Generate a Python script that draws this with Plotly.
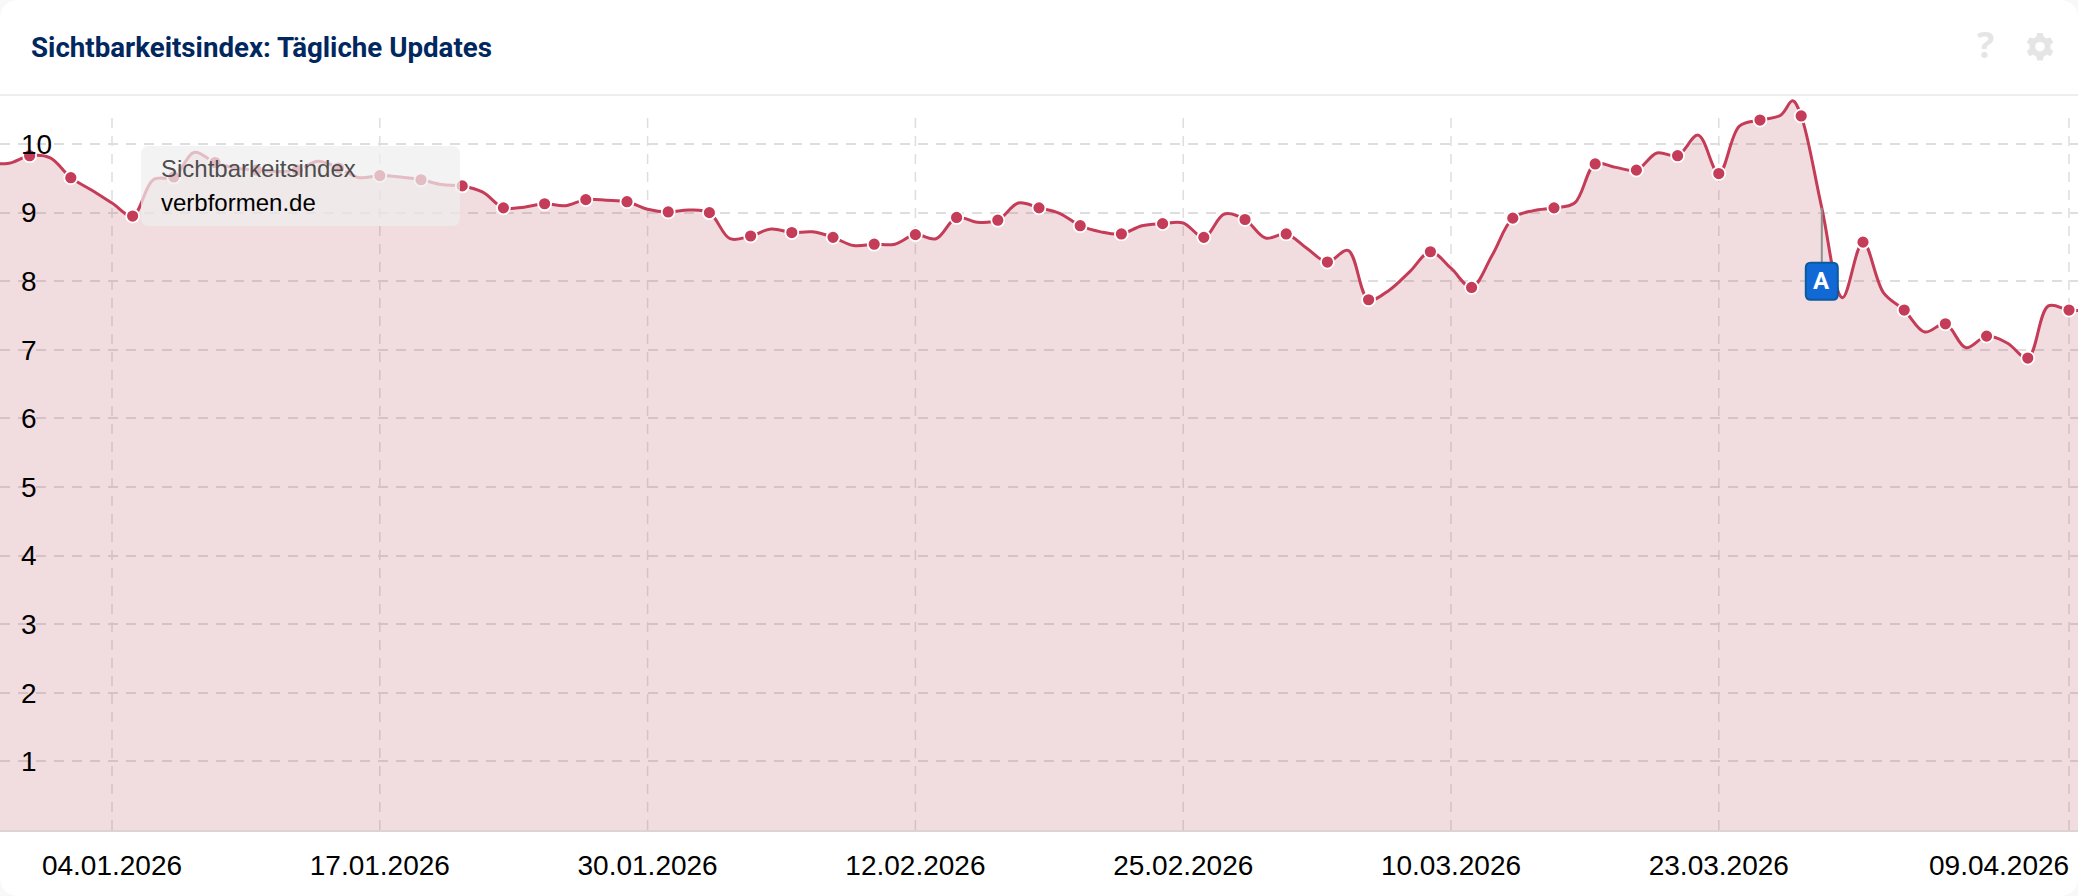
import math

import pandas as pd
import plotly.graph_objects as go

# Sichtbarkeitsindex, ein Wert pro Tag
dez_25 = [9.72, 9.72, 9.83]
jan_26 = [9.80, 9.51, 9.33, 9.14, 8.95, 9.48, 9.52, 9.88, 9.73, 9.65, 9.62, 9.60, 9.62, 9.75, 9.65, 9.51,
          9.54, 9.52, 9.48, 9.41, 9.39, 9.30, 9.07, 9.08, 9.13, 9.10, 9.19, 9.18, 9.16, 9.05, 9.01]
feb_26 = [9.04, 9.00, 8.62, 8.66, 8.76, 8.71, 8.72, 8.64, 8.52, 8.54, 8.54, 8.68, 8.62, 8.93, 8.86, 8.89,
          9.14, 9.07, 8.99, 8.81, 8.72, 8.69, 8.81, 8.84, 8.85, 8.64, 8.98, 8.90]
mar_26 = [8.63, 8.69, 8.48, 8.28, 8.45, 7.73, 7.87, 8.14, 8.43, 8.19, 7.91, 8.38, 8.92, 9.03, 9.07, 9.14,
          9.71, 9.66, 9.62, 9.87, 9.83, 10.13, 9.57, 10.26, 10.35, 10.42, 10.41, 9.07, 7.76, 8.57, 7.83]
apr_26 = [7.58, 7.26, 7.38, 7.03, 7.20, 7.10, 6.88, 7.64, 7.58, 7.58]

# Zwischenwert am 26.03. (kurze Spitze vor dem Abfall)
extra_zeit = ['2026-03-26 14:00']
extra_wert = [10.63]

werte = dez_25 + jan_26 + feb_26 + mar_26 + apr_26
tage = pd.date_range('2025-12-29', periods=len(werte), freq='D')
df = pd.DataFrame({'wert': werte}, index=tage)
linie = pd.concat([df, pd.DataFrame({'wert': extra_wert}, index=pd.to_datetime(extra_zeit))]).sort_index()

# Tage mit Punkt
punkte = ['2025-12-31', '2026-01-02', '2026-01-05', '2026-01-07', '2026-01-09', '2026-01-11', '2026-01-13',
          '2026-01-15', '2026-01-17', '2026-01-19', '2026-01-21', '2026-01-23', '2026-01-25', '2026-01-27',
          '2026-01-29', '2026-01-31', '2026-02-02', '2026-02-04', '2026-02-06', '2026-02-08', '2026-02-10',
          '2026-02-12', '2026-02-14', '2026-02-16', '2026-02-18', '2026-02-20', '2026-02-22', '2026-02-24',
          '2026-02-26', '2026-02-28', '2026-03-02', '2026-03-04', '2026-03-06', '2026-03-09', '2026-03-11',
          '2026-03-13', '2026-03-15', '2026-03-17', '2026-03-19', '2026-03-21', '2026-03-23', '2026-03-25',
          '2026-03-27', '2026-03-30', '2026-04-01', '2026-04-03', '2026-04-05', '2026-04-07', '2026-04-09']

x_ticks = ['2026-01-04', '2026-01-17', '2026-01-30', '2026-02-12', '2026-02-25', '2026-03-10', '2026-03-23',
           '2026-04-09']
x_labels = ['04.01.2026', '17.01.2026', '30.01.2026', '12.02.2026', '25.02.2026', '10.03.2026', '23.03.2026',
            '09.04.2026']
y_ticks = [1, 2, 3, 4, 5, 6, 7, 8, 9, 10]

flagge_tag = '2026-03-28'
flagge_text = 'A'

W, H = 2078, 896
TOP, BOTTOM = 96, 66
ROT = '#c43c58'
GRID = '#dedede'
ICON = '#e5e5e5'
SCHRIFT = 'Liberation Sans'


def px(x):
    return x / W


def py(y):
    # Pixel von oben -> paper-Koordinate des Plotbereichs
    return 1 - (y - TOP) / (H - TOP - BOTTOM)


def rund(x0, y0, x1, y1, r):
    return (f'M {px(x0 + r)} {py(y0)} L {px(x1 - r)} {py(y0)} Q {px(x1)} {py(y0)} {px(x1)} {py(y0 + r)} '
            f'L {px(x1)} {py(y1 - r)} Q {px(x1)} {py(y1)} {px(x1 - r)} {py(y1)} '
            f'L {px(x0 + r)} {py(y1)} Q {px(x0)} {py(y1)} {px(x0)} {py(y1 - r)} '
            f'L {px(x0)} {py(y0 + r)} Q {px(x0)} {py(y0)} {px(x0 + r)} {py(y0)} Z')


def zahnrad(cx, cy, aussen, innen, zaehne=6):
    # Zahnrad-Icon als geschlossener Pfad
    teile = []
    schritt = 2 * math.pi / zaehne
    for i in range(zaehne):
        w = -math.pi / 2 + i * schritt
        for r, d in ((innen, -0.36), (aussen, -0.2), (aussen, 0.2), (innen, 0.36)):
            teile.append((cx + r * math.cos(w + d), cy + r * math.sin(w + d)))
    pfad = ' L '.join(f'{px(a)} {py(b)}' for a, b in teile)
    return f'M {pfad} Z'


def kreis(cx, cy, r, n=24):
    teile = [(cx + r * math.cos(2 * math.pi * i / n), cy + r * math.sin(2 * math.pi * i / n)) for i in range(n)]
    pfad = ' L '.join(f'{px(a)} {py(b)}' for a, b in teile)
    return f'M {pfad} Z'


fig = go.Figure()
fig.add_trace(go.Scatter(x=linie.index, y=linie['wert'], mode='lines', fill='tozeroy',
                         fillcolor='rgba(176,62,80,0.18)', line=dict(color=ROT, width=3, shape='spline', smoothing=1),
                         hoverinfo='skip', showlegend=False))
fig.add_trace(go.Scatter(x=pd.to_datetime(punkte), y=df.loc[pd.to_datetime(punkte), 'wert'], mode='markers',
                         marker=dict(color=ROT, size=13, line=dict(color='white', width=1.8)), showlegend=False,
                         cliponaxis=False))

shapes = [dict(type='path', xref='paper', yref='paper', layer='below', path=rund(0, 0, W, H, 20),
               fillcolor='white', line_width=0),
          dict(type='line', xref='paper', yref='paper', x0=0, x1=1, y0=py(95), y1=py(95),
               line=dict(color='#eeeeee', width=2), layer='below'),
          dict(type='path', xref='paper', yref='paper', layer='below', path=zahnrad(2040, 46.7, 14, 10.5),
               fillcolor=ICON, line_width=0),
          dict(type='path', xref='paper', yref='paper', layer='below', path=kreis(2040, 46.7, 4.8),
               fillcolor='white', line_width=0)]
for t in x_ticks:
    shapes.append(dict(type='line', xref='x', yref='y', x0=t, x1=t, y0=0, y1=10.39, layer='below',
                       line=dict(color=GRID, width=1.5, dash='10px,8px')))
# Legendenkasten
shapes.append(dict(type='path', xref='paper', yref='paper', layer='above', path=rund(141, 146, 460, 226, 8),
                   fillcolor='rgba(238,238,238,0.72)', line_width=0))
# Flagge
flagge_wert = df.loc[flagge_tag, 'wert']
shapes.append(dict(type='line', xref='x', yref='y', xsizemode='pixel', ysizemode='pixel', xanchor=flagge_tag,
                   yanchor=flagge_wert, x0=0, x1=0, y0=0, y1=-55, line=dict(color='#8f8f8f', width=2), layer='above'))
shapes.append(dict(type='path', xref='x', yref='y', xsizemode='pixel', ysizemode='pixel', xanchor=flagge_tag,
                   yanchor=flagge_wert,
                   path='M -11 -55 L 11 -55 Q 16 -55 16 -60 L 16 -87 Q 16 -92 11 -92 L -11 -92 '
                        'Q -16 -92 -16 -87 L -16 -60 Q -16 -55 -11 -55 Z',
                   fillcolor='#1169d6', line=dict(color='#0b5a9c', width=2), layer='above'))

annotations = [
    dict(xref='paper', yref='paper', x=px(28.5), y=py(47), xanchor='left', yanchor='middle', showarrow=False,
         text='<b>Sichtbarkeitsindex: Tägliche Updates</b>', font=dict(family='Roboto', size=27.7, color='#00285f')),
    dict(xref='paper', yref='paper', x=px(1985), y=py(45), xanchor='center', yanchor='middle', showarrow=False,
         text='<b>?</b>', font=dict(family='Open Sans', size=36, color=ICON)),
    dict(xref='paper', yref='paper', x=px(159), y=py(169), xanchor='left', yanchor='middle', showarrow=False,
         text='Sichtbarkeitsindex', font=dict(family=SCHRIFT, size=24, color='#4d4d4d')),
    dict(xref='paper', yref='paper', x=px(159), y=py(202), xanchor='left', yanchor='middle', showarrow=False,
         text='verbformen.de', font=dict(family=SCHRIFT, size=24, color='#000000')),
    dict(xref='x', yref='y', x=flagge_tag, y=flagge_wert, yshift=-73.5, showarrow=False, text=f'<b>{flagge_text}</b>',
         font=dict(family='Roboto', size=24, color='white')),
    # letztes Datum sitzt rechtsbuendig, damit es nicht abgeschnitten wird
    dict(xref='x', yref='paper', x=x_ticks[-1], y=py(865), xanchor='right', yanchor='middle', showarrow=False,
         text=x_labels[-1], font=dict(family=SCHRIFT, size=28, color='#000000'), xshift=2),
]

fig.update_layout(width=W, height=H, margin=dict(l=0, r=0, t=TOP, b=BOTTOM, pad=0), paper_bgcolor='#f8f8f8',
                  plot_bgcolor='rgba(0,0,0,0)', shapes=shapes, annotations=annotations, showlegend=False,
                  font=dict(family=SCHRIFT, size=28, color='#000000'))
fig.update_xaxes(range=['2025-12-29 13:30', '2026-04-09 10:30'], tickmode='array', tickvals=x_ticks[:-1],
                 ticktext=x_labels[:-1], showgrid=False, ticks='', zeroline=False, showline=True,
                 linecolor='#ddd3d5', linewidth=2, ticklabelstandoff=9, tickfont=dict(color='#000000'))
fig.update_yaxes(range=[0, (830.6 - TOP) / 68.65], tickmode='array', tickvals=y_ticks, ticklabelposition='inside',
                 ticklabelstandoff=18, showgrid=True, gridcolor=GRID, griddash='10px,8px', gridwidth=1.5,
                 zeroline=False, showline=False, ticks='', tickfont=dict(color='#000000'), layer='above traces')

# Seitenrand entfernen, Diagramm soll das ganze Fenster fuellen
fig.write_html("out.html", config={'displayModeBar': False},
               post_script="document.body.style.margin='0';document.body.style.overflow='hidden';")
